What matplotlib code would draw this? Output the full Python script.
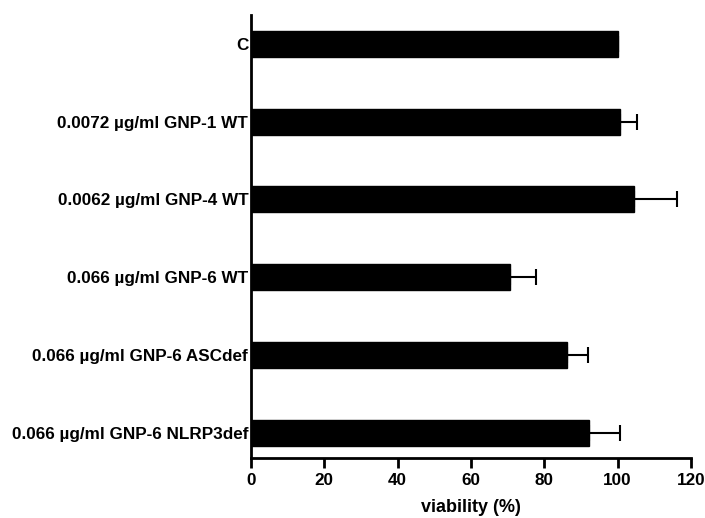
import numpy as np
import matplotlib
matplotlib.use('Agg')
from matplotlib import pyplot as plt

plt.rcParams['font.family'] = ['Liberation Sans', 'DejaVu Sans']
plt.rcParams['font.weight'] = 'bold'

# groups, top to bottom
labels = ['C',
          '0.0072 \u00b5g/ml GNP-1 WT',
          '0.0062 \u00b5g/ml GNP-4 WT',
          '0.066 \u00b5g/ml GNP-6 WT',
          '0.066 \u00b5g/ml GNP-6 ASCdef',
          '0.066 \u00b5g/ml GNP-6 NLRP3def']
viability = [100.0, 100.7, 104.5, 70.7, 86.3, 92.3]
errors = [0.0, 4.7, 11.7, 7.0, 5.5, 8.4]
xticks = [0, 20, 40, 60, 80, 100, 120]

fig = plt.figure(figsize=(7.05, 5.18), dpi=100)
ax = fig.add_axes([0.356, 0.116, 0.624, 0.855])

pos = np.arange(len(labels))
ax.barh(pos, viability, height=0.334, color='black', edgecolor='black')
# one-sided error bars (mean + SD)
xerr = np.array([np.zeros(len(errors)), errors])
ax.errorbar(viability, pos, xerr=xerr, fmt='none', ecolor='black',
            elinewidth=1.5, capsize=6, capthick=1.5)

ax.set_ylim(5.32, -0.37)
ax.set_xlim(0, 120)
ax.set_xticks(xticks)
ax.set_yticks(pos)
ax.set_yticklabels(labels, fontsize=12.3, fontweight='bold')
ax.tick_params(axis='y', length=0, pad=2)
ax.tick_params(axis='x', length=7, width=2, labelsize=12.3, pad=4)
for t in ax.get_xticklabels():
    t.set_fontweight('bold')
ax.set_xlabel('viability (%)', fontsize=13, fontweight='bold', labelpad=8)

for s in ['top', 'right']:
    ax.spines[s].set_visible(False)
for s in ['left', 'bottom']:
    ax.spines[s].set_linewidth(2)

plt.savefig('out.png', dpi=100)
plt.close()
